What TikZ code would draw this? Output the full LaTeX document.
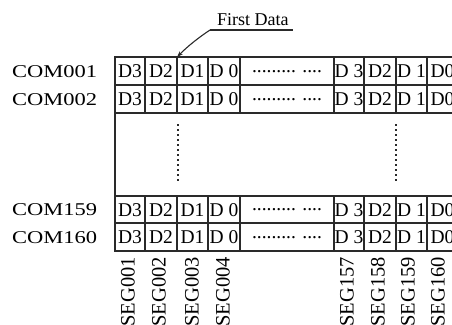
\documentclass[tikz,border=0pt]{standalone}
\usepackage{fontspec}
\setmainfont{Liberation Serif}
\usetikzlibrary{arrows.meta}
\definecolor{ln}{HTML}{2A2A2A}
\tikzset{
  cell/.style={draw=ln, line width=1.2pt, inner sep=0pt, outer sep=0pt,
    font=\fontsize{19.5}{19.5}\selectfont, text height=13pt, text depth=0pt},
  dotcell/.style={cell, text height=2pt},
  thickline/.style={draw=ln, line width=2.6pt},
  frame/.style={draw=ln, line width=1.2pt},
  comlbl/.style={font=\fontsize{18}{18}\selectfont, inner sep=0pt, anchor=west, text height=12pt, text depth=0pt},
  seglbl/.style={font=\fontsize{20.5}{20.5}\selectfont, inner sep=0pt, rotate=90, anchor=east},
  vdots/.style={draw=ln, line width=2pt, dash pattern=on 1.8pt off 3.2pt},
  leader/.style={draw=ln, line width=1.1pt, -{Stealth[length=6pt,width=4pt]}},
  fdlbl/.style={font=\fontsize{18}{18}\selectfont, inner sep=0pt, anchor=base west}
}
\begin{document}
\begin{tikzpicture}[x=1pt,y=-1pt]
\useasboundingbox (0,0) rectangle (452,324);
\clip (0,0) rectangle (452,324);
% middle band frame
\draw[frame] (115,113) rectangle (458,196);
% cells
\foreach \rw/\tp/\bt in {1/57/85, 2/85/113, 3/196/223, 4/223/251}{
  \foreach \cl/\lx/\rx/\tx in {1/115/145/D3, 2/145/177/D2, 3/177/208/D1, 4/208/240/D\ 0,
      6/334/364/D\ 3, 7/364/396/D2, 8/396/427/D\ 1, 9/427/458/D0}{
    \node[cell, minimum width={(\rx-\lx)*1pt}, minimum height={(\bt-\tp)*1pt}]
      (r\rw c\cl) at ({(\lx+\rx)/2},{(\tp+\bt)/2}) {\tx};
  }
  \node[dotcell, minimum width=94pt, minimum height={(\bt-\tp)*1pt}]
    (r\rw c5) at (287,{(\tp+\bt)/2}) {......... ....};
}
% thick separators
\draw[thickline] (r1c4.north west) -- (r2c4.south west);
\draw[thickline] (r3c4.north west) -- (r4c4.south west);
\draw[thickline] (r1c7.north west) -- (r2c7.south west);
\draw[thickline] (r3c7.north west) -- (r4c7.south west);
\draw[draw=ln, line width=2pt] (r1c1.north west) -- (r4c1.south west);
% vertical dots
\coordinate (va) at (177.5,124);
\coordinate (vb) at (177.5,183);
\coordinate (vc) at (395.5,124);
\coordinate (vd) at (395.5,183);
\draw[vdots] (va) -- (vb);
\draw[vdots] (vc) -- (vd);
% COM labels
\coordinate (cx) at (12,0);
\node[comlbl] (com1) at (cx |- r1c1) {\scalebox{1.25}[1]{COM001}};
\node[comlbl] (com2) at (cx |- r2c1) {\scalebox{1.25}[1]{COM002}};
\node[comlbl] (com3) at (cx |- r3c1) {\scalebox{1.25}[1]{COM159}};
\node[comlbl] (com4) at (cx |- r4c1) {\scalebox{1.25}[1]{COM160}};
% SEG labels
\node[seglbl] (s1) at (128,257) {SEG001};
\node[seglbl] (s2) at (159,257) {SEG002};
\node[seglbl] (s3) at (192,257) {SEG003};
\node[seglbl] (s4) at (223,257) {SEG004};
\node[seglbl] (s5) at (347,257) {SEG157};
\node[seglbl] (s6) at (378,257) {SEG158};
\node[seglbl] (s7) at (408,257) {SEG159};
\node[seglbl] (s8) at (438,257) {SEG160};
% First Data
\node[fdlbl] (fd) at (217,25) {First Data};
\coordinate (ula) at (210,30);
\coordinate (ulb) at (293,30);
\draw[draw=ln, line width=1.1pt] (ula) -- (ulb);
\draw[leader] (ula) .. controls (198,38) and (188,46) .. (r1c3.north west);
\end{tikzpicture}
\end{document}
